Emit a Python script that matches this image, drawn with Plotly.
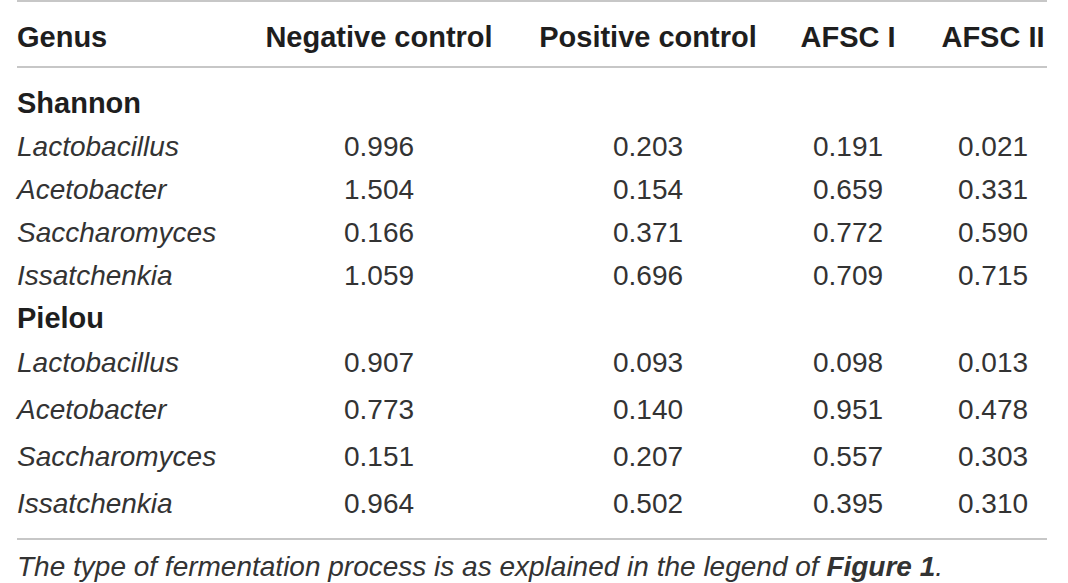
import plotly.graph_objects as go

columns = ["Genus", "Negative control", "Positive control", "AFSC I", "AFSC II"]
genera = ["Lactobacillus", "Acetobacter", "Saccharomyces", "Issatchenkia"]

shannon_negative = [0.996, 1.504, 0.166, 1.059]
shannon_positive = [0.203, 0.154, 0.371, 0.696]
shannon_afsc1 = [0.191, 0.659, 0.772, 0.709]
shannon_afsc2 = [0.021, 0.331, 0.590, 0.715]

pielou_negative = [0.907, 0.773, 0.151, 0.964]
pielou_positive = [0.093, 0.140, 0.207, 0.502]
pielou_afsc1 = [0.098, 0.951, 0.557, 0.395]
pielou_afsc2 = [0.013, 0.478, 0.303, 0.310]

footnote = ("<i>The type of fermentation process is as explained in the legend of </i>"
            "<b><i>Figure 1</i></b><i>.</i>")

# pixel layout of the table (text y is nudged down a bit, plotly's "middle" sits high)
W, H = 1068, 583
dy = 3
x_left = 17
x_cols = [379, 648, 848, 993]
y_header = 37 + dy
y_shannon = 103 + dy
y_shannon_rows = [146 + dy, 189 + dy, 232 + dy, 275 + dy]
y_pielou = 318 + dy
y_pielou_rows = [362 + dy, 409 + dy, 456 + dy, 503 + dy]
y_foot = 567 + 2
line_ys = [1, 67, 539]

text_col = "#1e1e1e"
body_col = "#333333"
font = "Liberation Sans, Arial, sans-serif"
fs = 28
fs_bold = 29

fig = go.Figure()

# header row
fig.add_trace(go.Scatter(x=[x_left], y=[y_header], mode="text",
                         text=["<b>%s</b>" % columns[0]], textposition="middle right",
                         textfont=dict(size=fs_bold, color=text_col, family=font)))
fig.add_trace(go.Scatter(x=x_cols, y=[y_header] * 4, mode="text",
                         text=["<b>%s</b>" % c for c in columns[1:]], textposition="middle center",
                         textfont=dict(size=fs_bold, color=text_col, family=font)))

# group labels
fig.add_trace(go.Scatter(x=[x_left, x_left], y=[y_shannon, y_pielou], mode="text",
                         text=["<b>Shannon</b>", "<b>Pielou</b>"], textposition="middle right",
                         textfont=dict(size=fs_bold, color=text_col, family=font)))

# genus names
fig.add_trace(go.Scatter(x=[x_left] * 8, y=y_shannon_rows + y_pielou_rows, mode="text",
                         text=["<i>%s</i>" % g for g in genera * 2], textposition="middle right",
                         textfont=dict(size=fs, color=body_col, family=font)))

# values
shannon = [shannon_negative, shannon_positive, shannon_afsc1, shannon_afsc2]
pielou = [pielou_negative, pielou_positive, pielou_afsc1, pielou_afsc2]
for xc, s, p in zip(x_cols, shannon, pielou):
    fig.add_trace(go.Scatter(x=[xc] * 8, y=y_shannon_rows + y_pielou_rows, mode="text",
                             text=["%.3f" % v for v in s + p], textposition="middle center",
                             textfont=dict(size=fs, color=body_col, family=font)))

# footnote
fig.add_trace(go.Scatter(x=[x_left], y=[y_foot], mode="text", text=[footnote],
                         textposition="middle right",
                         textfont=dict(size=fs, color=body_col, family=font)))

for ly in line_ys:
    fig.add_shape(type="line", xref="x", yref="y", x0=x_left, x1=1047, y0=ly, y1=ly,
                  line=dict(color="#b4b4b4", width=1.5))

fig.update_traces(cliponaxis=False)
fig.update_layout(
    width=W, height=H,
    margin=dict(l=0, r=0, t=0, b=0),
    paper_bgcolor="white", plot_bgcolor="white",
    showlegend=False,
    xaxis=dict(range=[0, W], visible=False, fixedrange=True),
    yaxis=dict(range=[H, 0], visible=False, fixedrange=True),
)

fig.write_html("out.html", config={"displayModeBar": False},
               post_script="document.body.style.margin='0';")
